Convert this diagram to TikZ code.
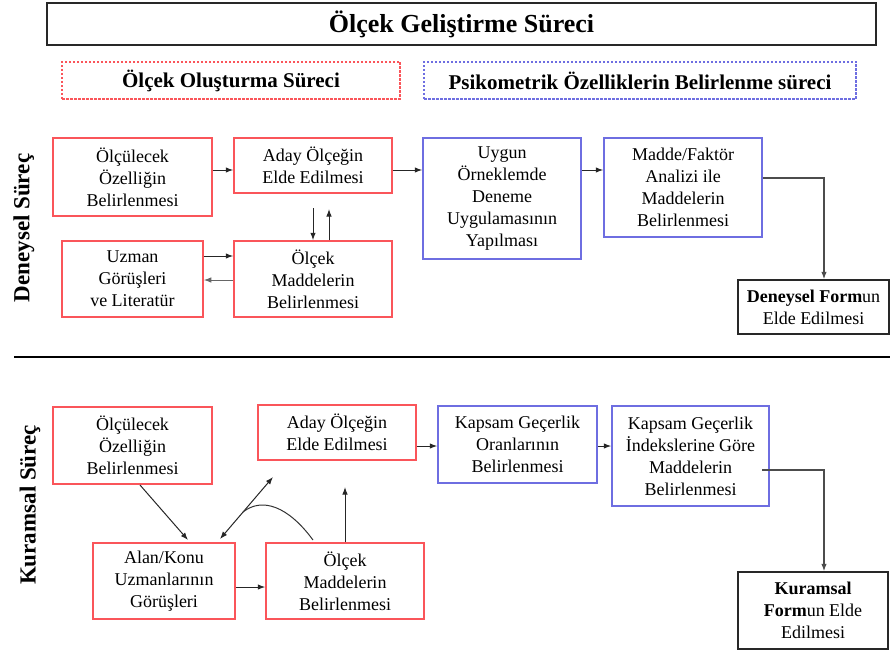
\documentclass[tikz,border=0pt]{standalone}
\usepackage{fontspec}
\setmainfont{Liberation Serif}
\usetikzlibrary{arrows.meta,calc}
\definecolor{boxred}{RGB}{250,85,90}
\definecolor{boxblue}{RGB}{110,110,225}
\definecolor{boxgray}{RGB}{40,40,40}
\begin{document}
\begin{tikzpicture}[x=1pt,y=-1pt,
  txt/.style={font=\fontsize{18}{22}\selectfont, align=center, inner sep=0pt},
  redbox/.style={txt, draw=boxred, line width=1.5pt, minimum width=#1},
  bluebox/.style={txt, draw=boxblue, line width=1.5pt, minimum width=#1},
  blackbox/.style={txt, draw=boxgray, line width=1.4pt, minimum width=#1},
  arr/.style={-{Latex[length=7.5pt,width=5.5pt]}, line width=1pt, draw=black!85},
  dblarr/.style={{Latex[length=7.5pt,width=5.5pt]}-{Latex[length=7.5pt,width=5.5pt]}, line width=1pt, draw=black!85},
  sidelabel/.style={font=\fontsize{23}{26}\selectfont\bfseries, rotate=90, inner sep=0pt}
]
\useasboundingbox (0,0) rectangle (890,655);

% title and subtitles
\node[draw=boxgray, line width=1.4pt, minimum width=829pt, minimum height=42pt, inner sep=0pt,
  font=\fontsize{26}{30}\selectfont\bfseries] (title) at (461.5,24) {Ölçek Geliştirme Süreci};
\node[draw=boxred, line width=1.2pt, dash pattern=on 2.5pt off 1.5pt, minimum width=338pt, minimum height=37pt, inner sep=0pt,
  font=\fontsize{21}{24}\selectfont\bfseries] (sub1) at (231,80.5) {Ölçek Oluşturma Süreci};
\node[draw=boxblue, line width=1.2pt, dash pattern=on 2.5pt off 1.5pt, minimum width=432pt, minimum height=37pt, inner sep=0pt,
  font=\fontsize{21}{24}\selectfont\bfseries] (sub2) at (640,80.5) {Psikometrik Özelliklerin Belirlenme süreci};

% side labels
\node[sidelabel] (lblD) at (24,228) {Deneysel Süreç};
\node[sidelabel] (lblK) at (30,505) {Kuramsal Süreç};

% separator
\coordinate (sepL) at (14,357);
\coordinate (sepR) at (890,357);
\draw[line width=2.6pt, black] (sepL) -- (sepR);

% Deneysel boxes
\node[redbox=159pt, minimum height=78pt] (d1) at (132.5,177) {Ölçülecek\\Özelliğin\\Belirlenmesi};
\node[redbox=158pt, minimum height=55pt] (d2) at (313,165.5) {Aday Ölçeğin\\Elde Edilmesi};
\node[redbox=141pt, minimum height=76pt] (d3) at (132.5,279) {Uzman\\Görüşleri\\ve Literatür};
\node[redbox=158pt, minimum height=76pt] (d4) at (313,279) {Ölçek\\Maddelerin\\Belirlenmesi};
\node[bluebox=158pt, minimum height=121pt] (d5) at (502,198.5) {Uygun\\Örneklemde\\Deneme\\Uygulamasının\\Yapılması};
\node[bluebox=158pt, minimum height=99pt] (d6) at (683,187.5) {Madde/Faktör\\Analizi ile\\Maddelerin\\Belirlenmesi};
\node[blackbox=151pt, minimum height=54pt] (d7) at (813.5,307) {\textbf{Deneysel Form}un\\Elde Edilmesi};

% Kuramsal boxes
\node[redbox=159pt, minimum height=77pt] (k1) at (132.5,445.5) {Ölçülecek\\Özelliğin\\Belirlenmesi};
\node[redbox=158pt, minimum height=55pt] (k2) at (337,432.5) {Aday Ölçeğin\\Elde Edilmesi};
\node[redbox=142pt, minimum height=76pt] (k3) at (164,581) {Alan/Konu\\Uzmanlarının\\Görüşleri};
\node[redbox=158pt, minimum height=76pt] (k4) at (345,581) {Ölçek\\Maddelerin\\Belirlenmesi};
\node[bluebox=159pt, minimum height=77pt] (k5) at (517.5,444.5) {Kapsam Geçerlik\\Oranlarının\\Belirlenmesi};
\node[bluebox=157pt, minimum height=100pt] (k6) at (690.5,456) {Kapsam Geçerlik\\İndekslerine Göre\\Maddelerin\\Belirlenmesi};
\node[blackbox=150pt, minimum height=77pt] (k7) at (813,610.5) {\textbf{Kuramsal}\\\textbf{Form}un Elde\\Edilmesi};

% Deneysel connectors
\draw[arr] (d1.east|-{(0,170)}) -- (d2.west|-{(0,170)});
\draw[arr] (d2.east|-{(0,170)}) -- (d5.west|-{(0,170)});
\draw[arr] (d5.east|-{(0,170)}) -- (d6.west|-{(0,170)});
\coordinate (d2d) at (313,208);
\coordinate (d2u) at (329,209);
\draw[arr] (d2d) -- (d4.north-|d2d);
\draw[arr] (d4.north-|d2u) -- (d2u);
\draw[arr] (d3.east|-{(0,256)}) -- (d4.west|-{(0,256)});
\draw[arr, draw=black!60] (d4.west|-{(0,280)}) -- (d3.east|-{(0,280)});
\draw[arr, draw=black!70, line width=1.2pt] (d6.east|-{(0,178)}) -| ([xshift=10.5pt]d7.north);

% Kuramsal connectors
\coordinate (k1s) at (140,485);
\coordinate (k3n) at (188,540);
\draw[arr] (k1s) -- (k3n);
\coordinate (dA) at (220,539);
\coordinate (dB) at (273,477);
\draw[dblarr] (dA) -- (dB);
\coordinate (cS) at (313,540);
\coordinate (cE) at (243,512);
\draw[line width=1pt, black!80] (cS) .. controls (288,506) and (262,497) .. (cE);
\coordinate (k4u) at (345,487);
\draw[arr] (k4.north-|k4u) -- (k4u);
\draw[arr] (k3.east|-{(0,587)}) -- (k4.west|-{(0,587)});
\draw[arr] (k2.east|-{(0,446)}) -- (k5.west|-{(0,446)});
\draw[arr] (k5.east|-{(0,446)}) -- (k6.west|-{(0,446)});
\coordinate (k6o) at (762,470);
\draw[arr, draw=black!70, line width=1.2pt] (k6o) -| ([xshift=11pt]k7.north);
\end{tikzpicture}
\end{document}
